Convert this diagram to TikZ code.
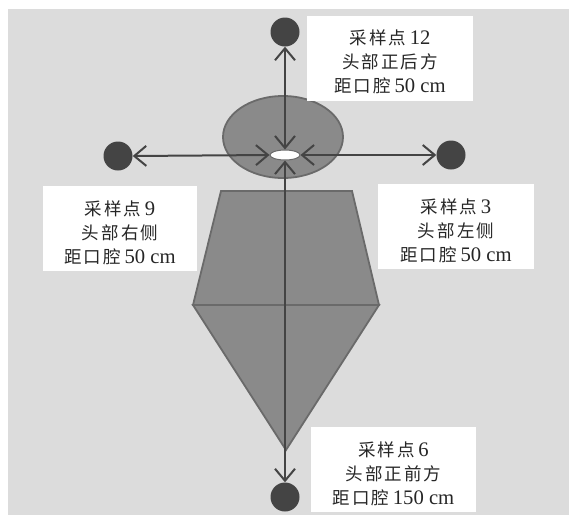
\documentclass[tikz,border=0pt]{standalone}
\usepackage{fontspec}
\setmainfont{Liberation Serif}[Scale=1.18]
\newfontfamily\cjk[LetterSpace=12]{Noto Sans CJK SC}
\usetikzlibrary{shapes.geometric,arrows.meta}
\definecolor{bggray}{HTML}{DCDCDC}
\definecolor{bodyfill}{HTML}{8A8A8A}
\definecolor{bodyline}{HTML}{6A6A6A}
\definecolor{dotgray}{HTML}{444444}
\definecolor{linegray}{HTML}{444444}
% taller first line, so the caption sits a little lower in its box
\newcommand\capstrut{\rule{0pt}{23pt}}
\tikzset{
  bodypart/.style={fill=bodyfill, draw=bodyline, line width=1.8pt},
  dot/.style={circle, fill=dotgray, draw=none, inner sep=0pt, minimum size=29pt},
  mouthshape/.style={ellipse, fill=white, draw=bodyline, line width=1pt, inner sep=0pt, minimum width=30pt, minimum height=10pt},
  link/.style={draw=linegray, line width=2pt, {Straight Barb[length=12pt,width=20pt]}-{Straight Barb[length=12pt,width=20pt]}},
  label/.style={fill=white, draw=none, align=center, inner sep=0pt, text=black!85,
    font=\fontsize{17.5}{24}\selectfont}
}
\begin{document}
\begin{tikzpicture}[x=1pt, y=-1pt]
  \useasboundingbox (0,0) rectangle (569,515);
  \fill[bggray] (8,9) rectangle (569,515);

  % head, torso and lower body
  \draw[bodypart] (283,137) ellipse [x radius=60, y radius=41];
  \draw[bodypart] (221,191) -- (352,191) -- (379,305) -- (193,305) -- cycle;
  \draw[bodypart] (193,305) -- (379,305) -- (286,450) -- cycle;

  % mouth and sampling points
  \node[mouthshape] (mouth) at (285,155) {};
  \node[dot] (p12) at (285,32) {};
  \node[dot] (p9)  at (118,156) {};
  \node[dot] (p3)  at (451,155) {};
  \node[dot] (p6)  at (285,497) {};

  % distance arrows
  \draw[link] (mouth.north) -- (p12.south);
  \draw[link] (mouth.west) -- (p9.east);
  \draw[link] (mouth.east) -- (p3.west);
  \draw[link] (mouth.south) -- (p6.north);

  % captions
  \node[label, minimum width=166pt, minimum height=85pt] (t12) at (390,58)
    {\capstrut{\cjk 采样点}\,12\\{\cjk 头部正后方}\\{\cjk 距口腔}\,50 cm};
  \node[label, minimum width=154pt, minimum height=85pt] (t9) at (120,228.5)
    {\capstrut{\cjk 采样点}\,9\\{\cjk 头部右侧}\\{\cjk 距口腔}\,50 cm};
  \node[label, minimum width=156pt, minimum height=85pt] (t3) at (456,226.5)
    {\capstrut{\cjk 采样点}\,3\\{\cjk 头部左侧}\\{\cjk 距口腔}\,50 cm};
  \node[label, minimum width=165pt, minimum height=85pt] (t6) at (393.5,469.5)
    {\capstrut{\cjk 采样点}\,6\\{\cjk 头部正前方}\\{\cjk 距口腔}\,150 cm};
\end{tikzpicture}
\end{document}
